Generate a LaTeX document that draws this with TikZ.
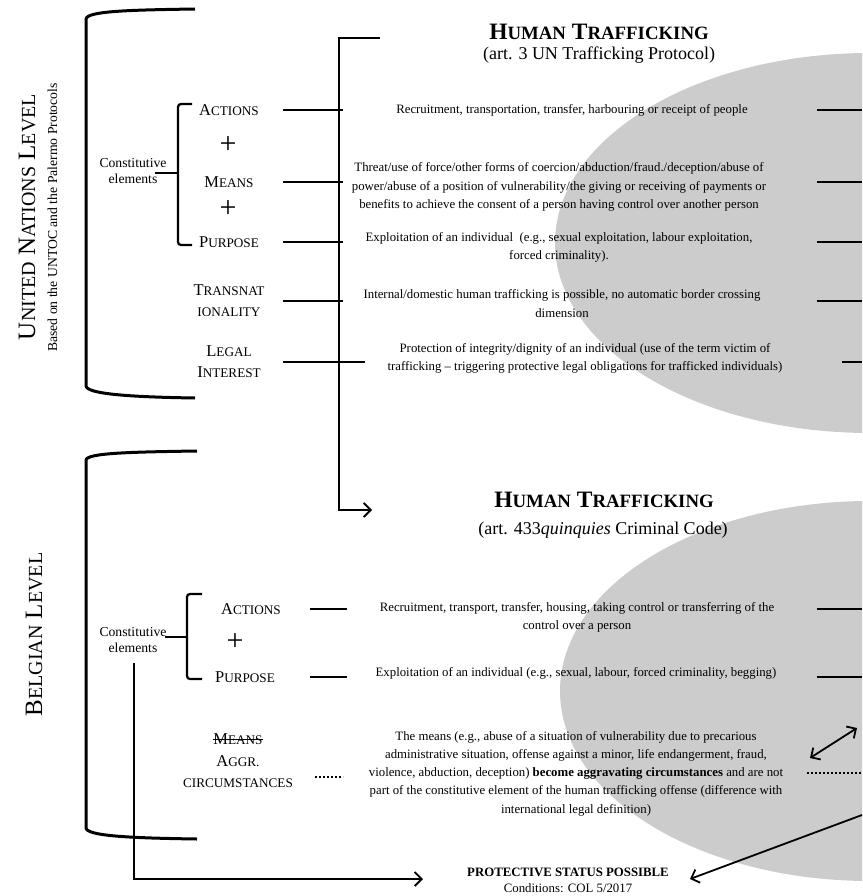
\documentclass[tikz,border=0pt]{standalone}
\usepackage{fontspec}
\setmainfont{Liberation Serif}
\usetikzlibrary{arrows.meta}
\newcommand\scL[2]{#1{\fontsize{13.2}{15}\selectfont #2}}
\newcommand\scS[1]{{\fontsize{13.2}{15}\selectfont #1}}
\newcommand\scT[2]{#1{\fontsize{18.8}{20}\selectfont #2}}
\newcommand\scR[2]{#1{\fontsize{20}{22}\selectfont #2}}
\begin{document}
\begin{tikzpicture}[x=1pt,y=-1pt,
  body/.style={font=\fontsize{12.8}{18.3}\selectfont, align=center, inner sep=0pt},
  lab/.style={font=\fontsize{16.5}{21}\selectfont, align=center, inner sep=0pt},
  small/.style={font=\fontsize{13.7}{16}\selectfont, align=center, inner sep=0pt},
  ttl/.style={font=\bfseries\fontsize{23.5}{26}\selectfont, inner sep=0pt},
  subt/.style={font=\fontsize{18}{21}\selectfont, inner sep=0pt},
  plus/.style={font=\fontsize{30}{32}\selectfont, inner sep=0pt},
  vert/.style={rotate=90, anchor=base, inner sep=0pt},
  bigbr/.style={line width=3pt},
  brace/.style={line width=2.2pt, rounded corners=3pt},
  rowline/.style={line width=1.6pt},
  conn/.style={line width=1.8pt},
  arr/.style={line width=1.8pt, -{Straight Barb[length=7pt,width=14pt]}},
  dbl/.style={line width=1.8pt, {Straight Barb[length=7pt,width=14pt]}-{Straight Barb[length=7pt,width=14pt]}},
  dots/.style={line width=2pt, dash pattern=on 1.6pt off 2.4pt},
  shade/.style={fill=black!20}
]
\useasboundingbox (0,0) rectangle (862,896);
\begin{scope}
  \clip (0,0) rectangle (862,896);
  \fill[shade] (870,243) ellipse [x radius=315, y radius=190];
  \fill[shade] (870,691) ellipse [x radius=310, y radius=190];
\end{scope}

% ---------- United Nations level ----------
\draw[bigbr] (195,9) .. controls (130,10) and (87,11) .. (86,19) -- (86,386) .. controls (87,394) and (130,397) .. (195,398);
\node[vert, font=\fontsize{25}{27}\selectfont] (un) at (35,217) {\scR{U}{NITED} \scR{N}{ATIONS} \scR{L}{EVEL}};
\node[vert, font=\fontsize{13.7}{16}\selectfont] (unsub) at (57,217.5) {Based on the UNTOC and the Palermo Protocols};

\node[ttl] (h1) at (599,32) {\scT{H}{UMAN} \scT{T}{RAFFICKING}};
\node[subt] (s1) at (599,55) {(art. 3 UN Trafficking Protocol)};

\node[small] (ce1) at (133,171) {Constitutive\\elements};
\coordinate (b1t) at (192,104);
\coordinate (b1b) at (192,245);
\coordinate (b1m) at (178,173);
\coordinate (b1s) at (155,173);
\draw[brace] (b1t) -- (178,104) -- (178,245) -- (b1b);
\draw[brace] (b1s) -- (b1m);

\node[lab] (la1) at (229,110) {\scL{A}{CTIONS}};
\node[plus] (p1) at (228,145) {+};
\node[lab] (la2) at (229,182) {\scL{M}{EANS}};
\node[plus] (p2) at (228,209) {+};
\node[lab] (la3) at (229,242) {\scL{P}{URPOSE}};
\node[lab] (la4) at (229,301) {\scL{T}{RANSNAT}\\\scS{IONALITY}};
\node[lab] (la5) at (229,362) {\scL{L}{EGAL}\\\scL{I}{NTEREST}};

\node[body] (t1) at (572,110) {Recruitment, transportation, transfer, harbouring or receipt of people};
\node[body] (t2) at (559,187) {Threat/use of force/other forms of coercion/abduction/fraud./deception/abuse of\\power/abuse of a position of vulnerability/the giving or receiving of payments or\\benefits to achieve the consent of a person having control over another person};
\node[body] (t3) at (559,247.5) {Exploitation of an individual\ \ (e.g., sexual exploitation, labour exploitation,\\forced criminality).};
\node[body] (t4) at (562,303.5) {Internal/domestic human trafficking is possible, no automatic border crossing\\dimension};
\node[body] (t5) at (585,358.5) {Protection of integrity/dignity of an individual (use of the term victim of\\trafficking – triggering protective legal obligations for trafficked individuals)};

% connector from the UN definition to the Belgian one
\coordinate (ctop) at (380,38);
\coordinate (cc1) at (339,38);
\coordinate (cc2) at (339,510);
\coordinate (cend) at (372,510);
\draw[arr] (ctop) -- (cc1) -- (cc2) -- (cend);

\coordinate (rl) at (283,0);
\coordinate (rr) at (343,0);
\coordinate (rr5) at (365,0);
\coordinate (rx) at (817,0);
\coordinate (rx5) at (842,0);
\coordinate (ex) at (862,0);
\foreach \n in {la1,la2,la3,la4}{
  \draw[rowline] (rl |- \n) -- (rr |- \n);
  \draw[rowline] (rx |- \n) -- (ex |- \n);
}
\draw[rowline] (rl |- la5) -- (rr5 |- la5);
\draw[rowline] (rx5 |- la5) -- (ex |- la5);

% ---------- Belgian level ----------
\draw[bigbr] (197,451) .. controls (130,452) and (87,453) .. (86,460) -- (86,828) .. controls (87,836) and (130,838) .. (197,839);
\node[vert, font=\fontsize{25}{27}\selectfont] (bel) at (42,634.5) {\scR{B}{ELGIAN} \scR{L}{EVEL}};

\node[ttl] (h2) at (604,500) {\scT{H}{UMAN} \scT{T}{RAFFICKING}};
\node[subt] (s2) at (603,530) {(art. 433\textit{quinquies} Criminal Code)};

\node[small] (ce2) at (133,640.5) {Constitutive\\elements};
\coordinate (b2t) at (202,594);
\coordinate (b2b) at (202,679);
\coordinate (b2m) at (187,637);
\coordinate (b2s) at (165,637);
\draw[brace] (b2t) -- (187,594) -- (187,679) -- (b2b);
\draw[brace] (b2s) -- (b2m);

\node[lab] (lb1) at (251,609) {\scL{A}{CTIONS}};
\node[plus] (p3) at (235,642) {+};
\node[lab] (lb2) at (245,677) {\scL{P}{URPOSE}};
\node[lab, text height=10.9pt, text depth=0pt] (mn) at (238,739) {\scL{M}{EANS}};
\draw[line width=0.9pt] (mn.west) -- (mn.east);
\node[lab] (ag) at (238,771.5) {\scL{A}{GGR.}\\\scS{CIRCUMSTANCES}};

\coordinate (ql) at (310,0);
\coordinate (qr) at (347,0);
\foreach \n in {lb1,lb2}{
  \draw[rowline] (ql |- \n) -- (qr |- \n);
  \draw[rowline] (rx |- \n) -- (ex |- \n);
}
\coordinate (dl) at (315,777);
\coordinate (dr) at (343,777);
\draw[dots] (dl) -- (dr);

\node[body] (u1) at (577,617.5) {Recruitment, transport, transfer, housing, taking control or transferring of the\\control over a person};
\node[body] (u2) at (576,673) {Exploitation of an individual (e.g., sexual, labour, forced criminality, begging)};
\node[body] (u3) at (576,773.5) {The means (e.g., abuse of a situation of vulnerability due to precarious\\administrative situation, offense against a minor, life endangerment, fraud,\\violence, abduction, deception) \textbf{become aggravating circumstances} and are not\\part of the constitutive element of the human trafficking offense (difference with\\international legal definition)};

\coordinate (rdl) at (807,773);
\coordinate (rdr) at (862,773);
\draw[dots] (rdl) -- (rdr);
\coordinate (da) at (810,758);
\coordinate (db) at (857,728);
\draw[dbl] (da) -- (db);

\node[body, font=\fontsize{12.8}{16}\selectfont] (pn) at (568,880) {\textbf{PROTECTIVE STATUS POSSIBLE}\\Conditions: COL 5/2017};
\coordinate (le0) at (134,663);
\coordinate (le1) at (134,879);
\coordinate (le2) at (423,879);
\draw[arr] (le0) -- (le1) -- (le2);
\coordinate (lr0) at (862,815);
\coordinate (lr1) at (690,879);
\draw[arr] (lr0) -- (lr1);
\end{tikzpicture}
\end{document}
